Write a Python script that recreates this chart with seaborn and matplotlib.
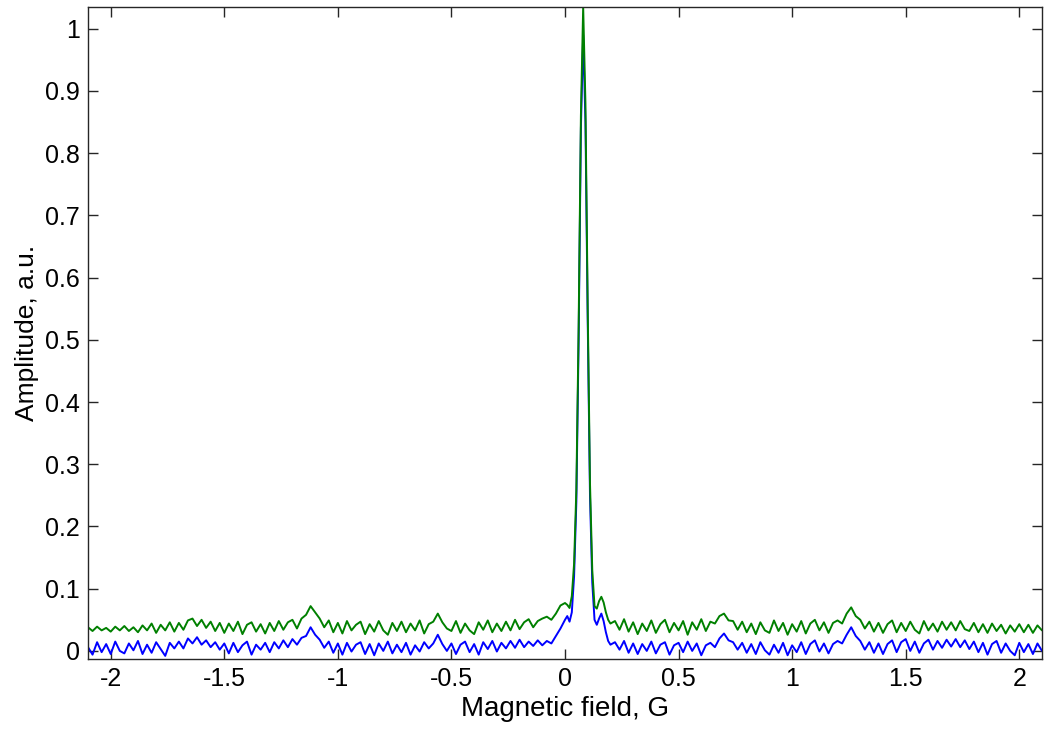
import numpy as np
import pandas as pd
import matplotlib
matplotlib.use("Agg")
import matplotlib.pyplot as plt
import seaborn as sns

# ---- data (amplitudes, in thousandths of a.u.) ----
field_left = np.round(np.arange(-2.10, -0.01, 0.02), 2)     # -2.10 .. -0.02
field_center = np.round(np.arange(0.00, 0.205, 0.01), 2)     # 0.00 .. 0.20
field_right = np.round(np.arange(0.22, 2.105, 0.02), 2)      # 0.22 .. 2.10

blue_left_milli = [
    6, -6, 14, -2, 11, -5, 15, 0, -4, 12,
    1, 16, -5, 10, -3, 14, 3, -8, 13, 4,
    15, 4, 20, 12, 22, 10, 17, 6, 14, 2,
    12, -4, 13, -2, 9, 15, -6, 10, 2, 13,
    -2, 14, 4, 17, 6, 19, 10, 21, 24, 38,
    26, 18, 5, 15, -3, 12, -6, 13, -1, 10,
    14, -5, 11, -7, 12, 0, 15, -4, 10, -2,
    13, -6, 9, -1, 14, 4, 12, 26, 11, 0,
    12, -5, 10, 15, -2, 11, -6, 14, 3, 16,
    -1, 13, 4, 16, 5, 18, 6, 15, 8, 17,
    9, 16, 12, 24, 36,
]
blue_center_milli = [50, 56, 47, 62, 120, 240, 500, 840, 990, 850,
                     530, 250, 110, 50, 42, 52, 60, 48, 30, 16, 10]
blue_right_milli = [
    14, 2, 16, -3, 12, -5, 11, 0, 15, -4,
    10, 14, -6, 9, 13, -2, 15, 0, 12, -7,
    9, 13, 6, 20, 28, 17, 14, 2, 13, -3,
    11, -5, 14, 1, -6, 10, -3, 13, -7, 9,
    -2, 14, -5, 11, 17, -1, 12, -4, 11, 16,
    12, 26, 38, 24, 16, 2, 14, -3, 12, -5,
    11, 17, -2, 14, 19, 0, 15, -3, 12, 18,
    2, 16, 5, 18, 7, 19, 6, 17, 3, 15,
    -2, 13, -6, 11, 16, -3, 12, 0, -7, 13,
    -2, 11, -5, 12, 0,
]

green_left_milli = [
    38, 32, 39, 33, 37, 31, 39, 33, 40, 32,
    38, 30, 41, 33, 44, 29, 42, 33, 46, 31,
    45, 34, 49, 52, 40, 50, 37, 47, 32, 45,
    29, 44, 32, 47, 27, 42, 46, 31, 43, 28,
    45, 32, 48, 34, 46, 50, 36, 52, 58, 72,
    62, 52, 38, 49, 30, 45, 28, 48, 33, 42,
    47, 27, 43, 31, 48, 33, 26, 45, 32, 47,
    30, 44, 33, 49, 28, 43, 47, 60, 46, 36,
    32, 48, 29, 44, 33, 27, 46, 34, 49, 30,
    44, 32, 47, 33, 50, 35, 46, 51, 38, 48,
    52, 55, 50, 60, 73,
]
green_center_milli = [77, 74, 69, 88, 140, 260, 520, 860, 1035, 880,
                      550, 270, 130, 72, 68, 80, 87, 78, 62, 50, 44]
green_right_milli = [
    48, 34, 51, 31, 46, 27, 44, 32, 49, 29,
    43, 50, 30, 45, 33, 48, 26, 46, 34, 51,
    32, 47, 44, 56, 60, 49, 48, 34, 47, 30,
    44, 27, 46, 33, 29, 49, 32, 45, 26, 43,
    31, 48, 28, 44, 50, 33, 46, 29, 45, 49,
    44, 60, 70, 56, 50, 36, 47, 31, 45, 29,
    43, 49, 30, 45, 32, 47, 34, 28, 48, 33,
    44, 31, 47, 34, 46, 33, 48, 35, 32, 45,
    30, 43, 29, 44, 32, 42, 28, 41, 31, 43,
    30, 42, 29, 41, 33,
]

x_ticks = [-2, -1.5, -1, -0.5, 0, 0.5, 1, 1.5, 2]
y_ticks = [0, 0.1, 0.2, 0.3, 0.4, 0.5, 0.6, 0.7, 0.8, 0.9, 1]
x_label = "Magnetic field, G"
y_label = "Amplitude, a.u."

field = np.concatenate([field_left, field_center, field_right])
blue = np.array(blue_left_milli + blue_center_milli + blue_right_milli) / 1000.0
green = np.array(green_left_milli + green_center_milli + green_right_milli) / 1000.0

df = pd.DataFrame({"field": field, "blue": blue, "green": green})

# ---- style ----
sns.set_style("ticks")
plt.rcParams["font.family"] = ["Liberation Sans", "DejaVu Sans"]
plt.rcParams["axes.unicode_minus"] = False

fig = plt.figure(figsize=(10.5, 7.32), dpi=100)
ax = fig.add_axes([88 / 1050, 1 - 659 / 732, (1042 - 88) / 1050, (659 - 7) / 732])

sns.lineplot(data=df, x="field", y="blue", color=(0, 0, 1), lw=1.4,
             estimator=None, sort=False, ax=ax)
sns.lineplot(data=df, x="field", y="green", color=(0, 0.5, 0), lw=1.4,
             estimator=None, sort=False, ax=ax)

ax.set_xlim(-2.1, 2.1)
ax.set_ylim(-0.013, 1.035)
ax.set_xticks(x_ticks)
ax.set_xticklabels([f"{t:g}" for t in x_ticks])
ax.set_yticks(y_ticks)
ax.set_yticklabels([f"{t:g}" for t in y_ticks])
ax.tick_params(direction="in", length=7, width=1, top=True, right=True,
               labelsize=18, colors="#262626", labelcolor="black", pad=6)
for s in ax.spines.values():
    s.set_color("#262626")
    s.set_linewidth(1)
    s.set_visible(True)
ax.set_xlabel(x_label, fontsize=20, labelpad=3, color="black")
ax.set_ylabel(y_label, fontsize=19, labelpad=4, color="black")

fig.savefig("out.png", dpi=100)
